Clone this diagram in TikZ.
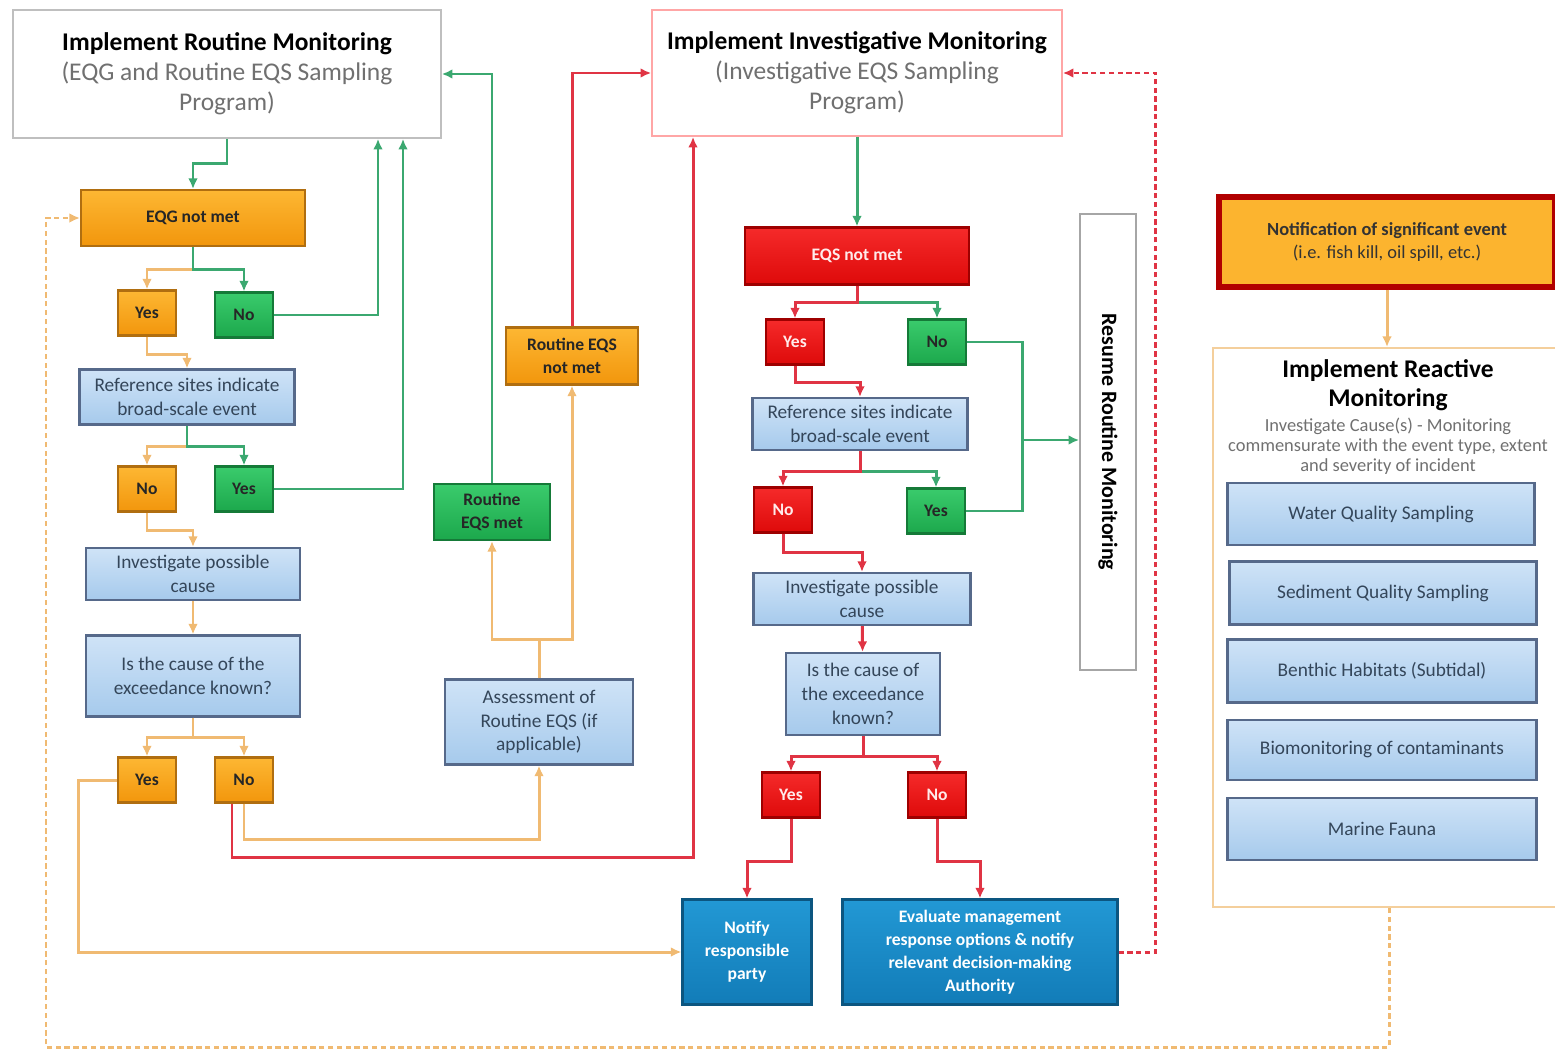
\documentclass[tikz,border=0pt]{standalone}
\usepackage{fontspec}
\setmainfont{Carlito}
\usetikzlibrary{arrows.meta,calc}
\definecolor{otop}{HTML}{FDB733}
\definecolor{obot}{HTML}{F2960C}
\definecolor{oedge}{HTML}{B06E10}
\definecolor{gtop}{HTML}{3ACB6C}
\definecolor{gbot}{HTML}{1CA84C}
\definecolor{gedge}{HTML}{157A38}
\definecolor{rtop}{HTML}{F52A2A}
\definecolor{rbot}{HTML}{DE0A0A}
\definecolor{redge}{HTML}{9E0000}
\definecolor{ltop}{HTML}{CFE3F7}
\definecolor{lbot}{HTML}{A6CAEC}
\definecolor{ledge}{HTML}{56698A}
\definecolor{dtop}{HTML}{2298D4}
\definecolor{dbot}{HTML}{127CB8}
\definecolor{dedge}{HTML}{0C5680}
\definecolor{gcol}{HTML}{3BA870}
\definecolor{ocol}{HTML}{F0BA72}
\definecolor{rcol}{HTML}{E03444}
\definecolor{subgray}{HTML}{707070}
\definecolor{bluetxt}{HTML}{34465A}
\newcommand{\hdtitle}[1]{{\color{black}\bfseries #1}}
\tikzset{
  base/.style={draw, line width=1.2pt, align=center, inner sep=2pt},
  obox/.style={base, draw=oedge, top color=otop, bottom color=obot, text=black!85,
    font=\bfseries\fontsize{10}{13}\selectfont},
  gbox/.style={base, draw=gedge, top color=gtop, bottom color=gbot, text=black!85,
    font=\bfseries\fontsize{10}{13}\selectfont},
  rbox/.style={base, draw=redge, top color=rtop, bottom color=rbot, text=red!8,
    font=\bfseries\fontsize{10}{13}\selectfont},
  lbox/.style={base, draw=ledge, top color=ltop, bottom color=lbot, text=bluetxt,
    font=\fontsize{11}{13.5}\selectfont},
  dbox/.style={base, draw=dedge, top color=dtop, bottom color=dbot, text=white,
    font=\bfseries\fontsize{10}{13}\selectfont},
  yn/.style={minimum width=1.16cm, minimum height=0.9cm},
  hbox/.style={draw, line width=1pt, fill=white, align=center, text=subgray,
    font=\fontsize{14.5}{17}\selectfont},
  gline/.style={draw=gcol, line width=1.7pt, -{Latex[length=6pt,width=5.5pt]}},
  oline/.style={draw=ocol, line width=1.7pt, -{Latex[length=6pt,width=5.5pt]}},
  rline/.style={draw=rcol, line width=1.7pt, -{Latex[length=6pt,width=5.5pt]}},
  rdash/.style={rline, dash pattern=on 3pt off 2pt},
  odash/.style={oline, dash pattern=on 3pt off 2pt}
}
\begin{document}
\begin{tikzpicture}[x=0.02cm,y=-0.02cm]
\useasboundingbox (0,0) rectangle (1555,1051);
% monitoring headers
\node[hbox, draw=black!25, minimum width=8.56cm, minimum height=2.56cm] (rtn) at (227,74)
  {\hdtitle{Implement Routine Monitoring}\\ (EQG and Routine EQS Sampling\\ Program)};
\node[hbox, draw=red!35, minimum width=8.2cm, minimum height=2.52cm] (inv) at (857,73)
  {\hdtitle{Implement Investigative Monitoring}\\ (Investigative EQS Sampling\\ Program)};

% routine branch
\node[obox, minimum width=4.48cm, minimum height=1.12cm] (eqg) at (193,218) {EQG not met};
\node[obox, yn] (ya1) at (147,313) {Yes};
\node[gbox, yn] (na1) at (244,315) {No};
\node[lbox, minimum width=4.3cm, minimum height=1.1cm] (ref1) at (187,397) {Reference sites indicate\\ broad-scale event};
\node[obox, yn] (nb1) at (147,489) {No};
\node[gbox, yn] (yb1) at (244,489) {Yes};
\node[lbox, minimum width=4.28cm, minimum height=1.04cm] (inv1) at (193,574) {Investigate possible\\ cause};
\node[lbox, minimum width=4.28cm, minimum height=1.62cm] (cau1) at (193,676) {Is the cause of the\\ exceedance known?};
\node[obox, yn] (yc1) at (147,780) {Yes};
\node[obox, yn] (nc1) at (244,780) {No};
\node[lbox, minimum width=3.76cm, minimum height=1.7cm] (ass) at (539,722) {Assessment of\\ Routine EQS (if\\ applicable)};
\node[gbox, minimum width=2.32cm, minimum height=1.12cm] (rmet) at (492,512) {Routine\\ EQS met};
\node[obox, minimum width=2.64cm, minimum height=1.14cm] (rnot) at (572,356) {Routine EQS\\ not met};

% investigative branch
\node[rbox, minimum width=4.48cm, minimum height=1.14cm] (eqs) at (857,256) {EQS not met};
\node[rbox, yn] (ya2) at (795,342) {Yes};
\node[gbox, yn] (na2) at (937,342) {No};
\node[lbox, minimum width=4.3cm, minimum height=1.04cm] (ref2) at (860,424) {Reference sites indicate\\ broad-scale event};
\node[rbox, yn] (nb2) at (783,510) {No};
\node[gbox, yn] (yb2) at (936,511) {Yes};
\node[lbox, minimum width=4.34cm, minimum height=1.04cm] (inv2) at (862,599) {Investigate possible\\ cause};
\node[lbox, minimum width=3.08cm, minimum height=1.64cm] (cau2) at (863,694) {Is the cause of\\ the exceedance\\ known?};
\node[rbox, yn] (yc2) at (791,795) {Yes};
\node[rbox, yn] (nc2) at (937,795) {No};
\node[dbox, minimum width=2.58cm, minimum height=2.1cm] (ntf) at (747,952) {Notify\\ responsible\\ party};
\node[dbox, minimum width=5.5cm, minimum height=2.1cm] (evl) at (980,952) {Evaluate management\\ response options \& notify\\ relevant decision-making\\ Authority};
\node[draw=black!35, line width=1pt, minimum width=1.12cm, minimum height=9.12cm] (res) at (1108,442) {};
\node[rotate=-90, font=\bfseries\fontsize{12.5}{14}\selectfont] (restxt) at (res.center) {Resume Routine Monitoring};

% reactive
\node[draw=redge!80!red, line width=3pt, fill=otop!90!obot, align=center, minimum width=6.72cm, minimum height=1.8cm,
  font=\fontsize{10.5}{13}\selectfont, text=black!80] (sig) at (1387,242)
  {\textbf{Notification of significant event}\\ (i.e. fish kill, oil spill, etc.)};
\node[draw=ocol!70, line width=1.2pt, minimum width=7.04cm, minimum height=11.18cm] (rct) at (1389,627.5) {};
\node[anchor=north, align=center, font=\bfseries\fontsize{14.5}{17}\selectfont] (rctttl) at (1388,353)
  {Implement Reactive\\ Monitoring};
\node[anchor=north, align=center, font=\fontsize{10.5}{11.5}\selectfont, text=subgray, inner sep=0pt] (rctsub) at (rctttl.south)
  {Investigate Cause(s) - Monitoring\\ commensurate with the event type, extent\\ and severity of incident};
\node[lbox, minimum width=6.14cm, minimum height=1.24cm] (wq) at (1381,514) {Water Quality Sampling};
\node[lbox, minimum width=6.14cm, minimum height=1.26cm] (sd) at (1383,593) {Sediment Quality Sampling};
\node[lbox, minimum width=6.18cm, minimum height=1.26cm] (bh) at (1382,671) {Benthic Habitats (Subtidal)};
\node[lbox, minimum width=6.18cm, minimum height=1.2cm] (bm) at (1382,750) {Biomonitoring of contaminants};
\node[lbox, minimum width=6.18cm, minimum height=1.24cm] (mf) at (1382,829) {Marine Fauna};

% routine connectors
\draw[gline] (rtn.south) -- ++(0,25) -| (eqg.north);
\draw[oline] (eqg.south) -- ++(0,22) -| (ya1.north);
\draw[gline] (eqg.south) -- ++(0,22) -| (na1.north);
\draw[gline] (na1.east) -| ($(rtn.south)+(151,0)$);
\draw[oline] (ya1.south) -- ++(0,18) -| (ref1.north);
\draw[oline] (ref1.south) -- ++(0,21) -| (nb1.north);
\draw[gline] (ref1.south) -- ++(0,21) -| (yb1.north);
\draw[gline] (yb1.east) -| ($(rtn.south)+(176,0)$);
\draw[oline] (nb1.south) -- ++(0,18) -| (inv1.north);
\draw[oline] (inv1) -- (cau1);
\draw[oline] (cau1.south) -- ++(0,20) -| (yc1.north);
\draw[oline] (cau1.south) -- ++(0,20) -| (nc1.north);
\draw[oline] (yc1.west) -- ++(-38,0) |- (ntf.west);
\draw[oline] (nc1.south) -- ++(0,36) -| (ass.south);
\draw[rline] ($(nc1.south)+(-12,0)$) -- ++(0,54) -| ($(inv.south)+(-164,0)$);
\draw[oline] (ass.north) -- ++(0,-39) -| (rmet.south);
\draw[oline] (ass.north) -- ++(0,-39) -| (rnot.south);
\draw[gline] (rmet.north) |- (rtn.east);
\draw[rline] (rnot.north) |- (inv.west);

% investigative connectors
\draw[gline] (inv.south) -- (eqs.north);
\draw[gline] (eqs.south) -- ++(0,17) -| (na2.north);
\draw[rline] (eqs.south) -- ++(0,17) -| (ya2.north);
\draw[rline] (ya2.south) -- ++(0,17) -| (ref2.north);
\draw[gline] (ref2.south) -- ++(0,20) -| (yb2.north);
\draw[rline] (ref2.south) -- ++(0,20) -| (nb2.north);
\coordinate (gj) at (1022,440);
\draw[gcol, line width=1.7pt] (na2.east) -| (gj) |- (yb2.east);
\draw[gline] (gj) -- (gj -| res.west);
\draw[rline] (nb2.south) -- ++(0,19) -| (inv2.north);
\draw[rline] (inv2) -- (cau2);
\draw[rline] (cau2.south) -- ++(0,20) -| (yc2.north);
\draw[rline] (cau2.south) -- ++(0,20) -| (nc2.north);
\draw[rline] (yc2.south) -- ++(0,43) -| (ntf.north);
\draw[rline] (nc2.south) -- ++(0,43) -| (evl.north);
\draw[rdash] (evl.east) -- ++(37,0) |- (inv.east);

% reactive connectors
\draw[oline] (sig.south) -- (sig.south |- rct.north);
\coordinate (lb) at (46,1047);
\draw[odash] (rct.south) |- (lb) |- (eqg.west);
\end{tikzpicture}
\end{document}
